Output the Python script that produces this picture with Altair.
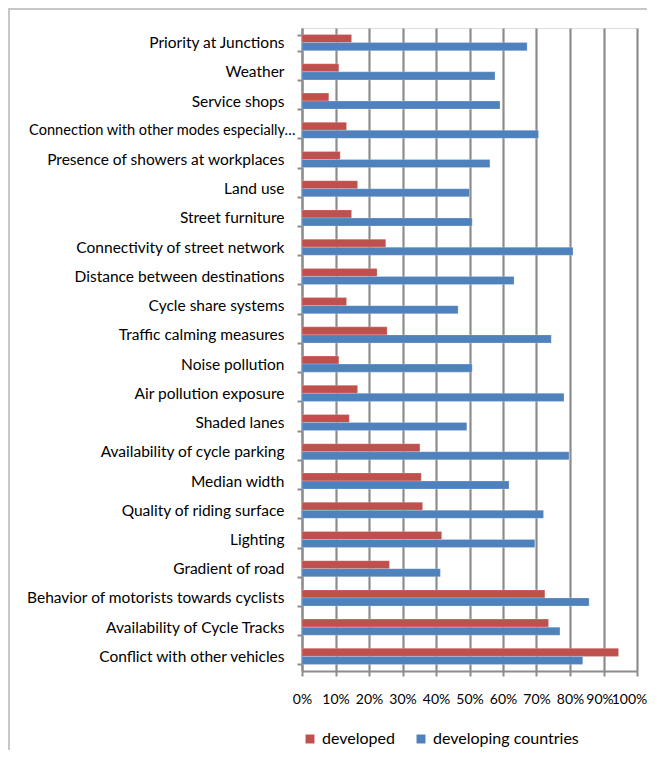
import altair as alt
import pandas as pd

categories = [
    "Priority at Junctions",
    "Weather",
    "Service shops",
    "Connection with other modes especially…",
    "Presence of showers at workplaces",
    "Land use",
    "Street furniture",
    "Connectivity of street network",
    "Distance between destinations",
    "Cycle share systems",
    "Traffic calming measures",
    "Noise pollution",
    "Air pollution exposure",
    "Shaded lanes",
    "Availability of cycle parking",
    "Median width",
    "Quality of riding surface",
    "Lighting",
    "Gradient of road",
    "Behavior of motorists towards cyclists",
    "Availability of Cycle Tracks",
    "Conflict with other vehicles",
]
developed = [14.8, 11.0, 8.0, 13.3, 11.4, 16.6, 14.8, 25.0, 22.4, 13.3, 25.4,
             11.0, 16.6, 14.1, 35.2, 35.6, 36.0, 41.7, 26.1, 72.5, 73.6, 94.5]
developing = [67.2, 57.6, 59.1, 70.6, 56.1, 50.0, 50.8, 80.9, 63.3, 46.6, 74.4,
              50.8, 78.2, 49.2, 79.7, 61.8, 72.1, 69.5, 41.3, 85.7, 77.0, 83.8]
series = ["developed", "developing countries"]
colors = ["#C0504D", "#4F81BD"]
x_ticks = [0, 10, 20, 30, 40, 50, 60, 70, 80, 90, 100]

rows = []
for c, d, g in zip(categories, developed, developing):
    rows.append({"cat": c, "series": series[0], "value": d / 100})
    rows.append({"cat": c, "series": series[1], "value": g / 100})
df = pd.DataFrame(rows)

W, H = 335, 643
PAD = {"left": 294, "top": 20, "right": 10, "bottom": 79}
FONT = "Lato"
GRID = "#8c8c8c"
LONG = "datum.value == 'Connection with other modes especially…'"

x_label_offset = {
    "condition": [
        {"test": "datum.value >= 0.99", "value": -8},
        {"test": "datum.value >= 0.89", "value": -4},
    ],
    "value": 0,
}

bars = alt.Chart(df).mark_bar(stroke="#ffffff", strokeOpacity=0.35, strokeWidth=0.6).encode(
    x=alt.X("value:Q",
            scale=alt.Scale(domain=[0, 1], nice=False),
            axis=alt.Axis(values=[v / 100 for v in x_ticks], format=".0%", title=None,
                          grid=True, gridColor=GRID, gridWidth=2.2,
                          domainColor=GRID, domainWidth=2, tickColor=GRID, tickWidth=2,
                          tickSize=5, labelFont=FONT, labelFontSize=14, labelColor="#000",
                          labelOverlap=False, labelPadding=16, labelFlush=False,
                          labelOffset=x_label_offset)),
    y=alt.Y("cat:N", sort=categories,
            scale=alt.Scale(paddingInner=0.45, paddingOuter=0.225),
            axis=alt.Axis(title=None, tickBand="extent", domainColor=GRID, domainWidth=2,
                          tickColor=GRID, tickWidth=2, tickSize=5, labelFont=FONT,
                          labelFontSize=alt.condition(LONG, alt.value(14.6), alt.value(15.5)),
                          labelPadding=alt.condition(LONG, alt.value(2), alt.value(13)),
                          labelColor="#000", labelLimit=400)),
    yOffset=alt.YOffset("series:N", sort=series),
    color=alt.Color("series:N", sort=series,
                    scale=alt.Scale(domain=series, range=colors),
                    legend=alt.Legend(title=None, orient="none", direction="horizontal",
                                      legendX=0, legendY=703, symbolType="square",
                                      symbolSize=80, symbolStrokeWidth=0,
                                      labelFont=FONT, labelFontSize=16, labelColor="#000",
                                      columnPadding=18, padding=0)),
)

frame = alt.Chart(pd.DataFrame({"k": [0]})).mark_rect(
    fill=None, stroke="#c8c8c8", strokeWidth=2
).encode(
    x=alt.value(-PAD["left"] + 1), x2=alt.value(400),
    y=alt.value(-PAD["top"] + 1), y2=alt.value(800)
)

chart = alt.layer(frame, bars).properties(
    width=W, height=H,
    padding=PAD,
    autosize=alt.AutoSizeParams(type="none"),
).configure_view(stroke=None).configure(background="#ffffff")

chart.save("out.html", embed_options={"renderer": "svg", "actions": False})
